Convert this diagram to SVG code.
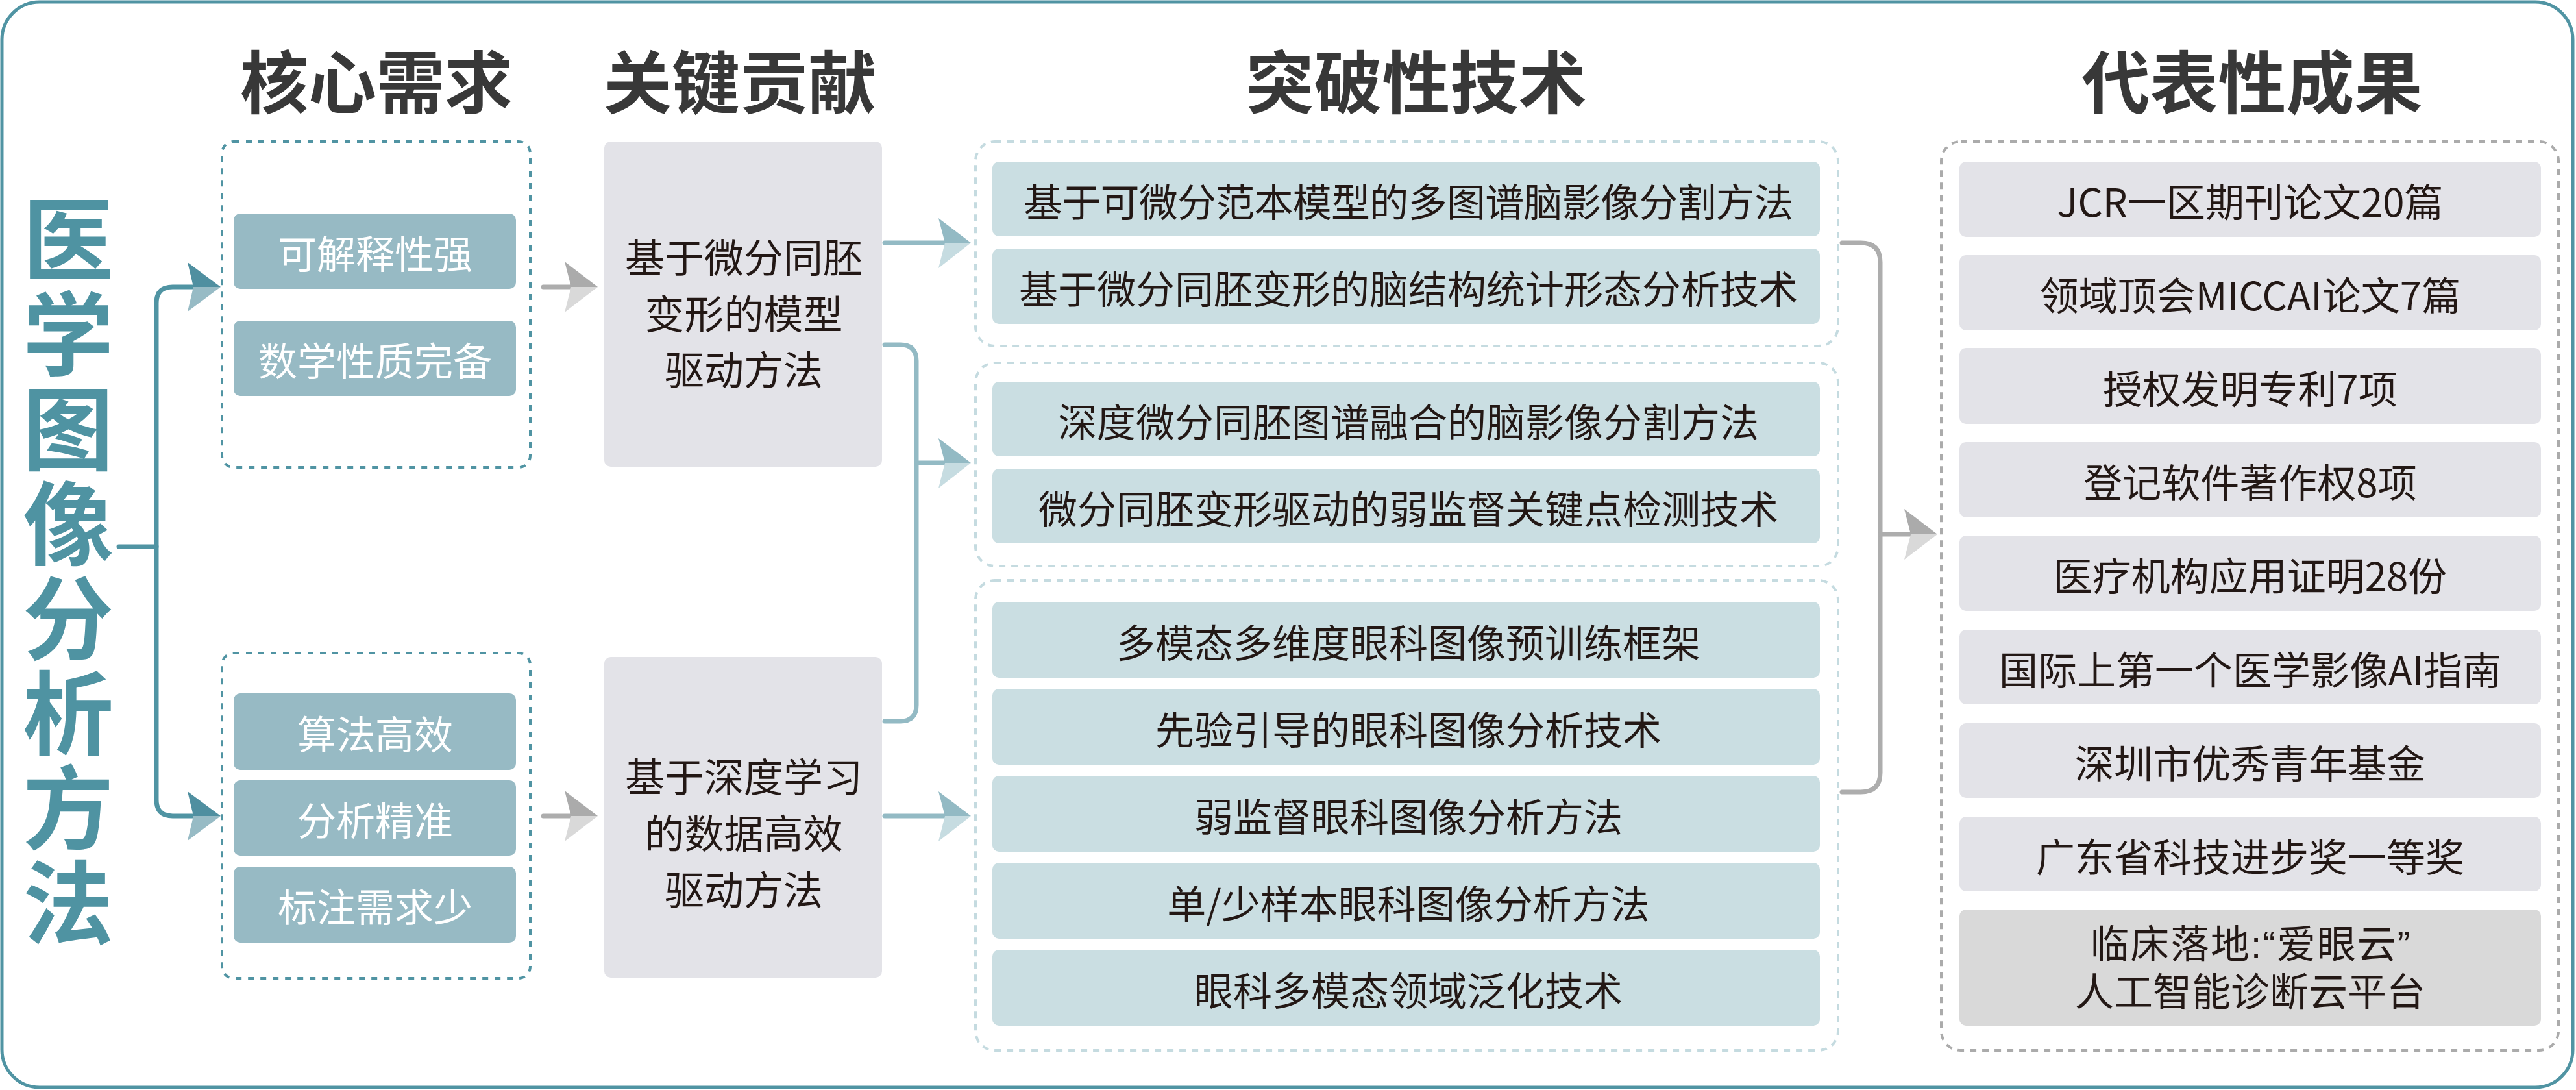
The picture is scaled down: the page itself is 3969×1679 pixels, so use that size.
<svg xmlns="http://www.w3.org/2000/svg" width="3969" height="1679" viewBox="0 0 3969 1679">
<style>
text{font-family:"Noto Sans CJK SC","Noto Sans",sans-serif;text-anchor:middle;dominant-baseline:central}
.title{font-size:140px;font-weight:700;fill:#4f93a2;writing-mode:vertical-rl;letter-spacing:6px}
.hdr{font-size:105px;font-weight:700;fill:#383838}
.core{fill:#97bac4}
.coreT{font-size:60px;fill:#ffffff}
.key{fill:#e3e3e8}
.dk{font-size:61px;fill:#231815}
.tech{fill:#cadee2}
.t{font-size:60px;fill:#231815}
.lat{font-family:"Liberation Sans","Noto Sans CJK SC",sans-serif}
.res{fill:#e3e3e8}
.dashCore{fill:none;stroke:#5094a3;stroke-width:4;stroke-dasharray:9 10}
.dashTech{fill:none;stroke:#c5dbe0;stroke-width:4;stroke-dasharray:10 9}
.dashRes{fill:none;stroke:#ababab;stroke-width:4;stroke-dasharray:10 9}
.lnTeal{fill:none;stroke:#5094a3;stroke-width:7;stroke-linecap:round}
.lnLt{fill:none;stroke:#93bac4;stroke-width:7;stroke-linecap:round}
.lnGr{fill:none;stroke:#adadad;stroke-width:7;stroke-linecap:round}
</style>
<defs>
<g id="ahTeal"><polygon points="-51,-38 0,0 -42,0" fill="#4f8fa0"/><polygon points="-42,0 0,0 -51,38" fill="#97bbc5"/></g>
<g id="ahLt"><polygon points="-50,-38 0,0 -40,0" fill="#93bac4"/><polygon points="-40,0 0,0 -50,39" fill="#c6dce1"/></g>
<g id="ahGr"><polygon points="-51,-39 0,0 -41,0" fill="#ababab"/><polygon points="-41,0 0,0 -51,39" fill="#d9d9d9"/></g>
</defs>
<rect x="3" y="3" width="3961" height="1672" rx="58" fill="#ffffff" stroke="#5094a3" stroke-width="5"/>

<g id="title">
<text class="title" x="105" y="882">医学图像分析方法</text>
</g>

<g id="headers">
<text class="hdr" x="580" y="120">核心需求</text>
<text class="hdr" x="1140" y="120">关键贡献</text>
<text class="hdr" x="2182" y="120">突破性技术</text>
<text class="hdr" x="3470" y="120">代表性成果</text>
</g>

<g id="connectors">
<path class="lnTeal" d="M183 842 H241"/>
<path class="lnTeal" d="M298 442 H266 Q241 442 241 467 V1232 Q241 1257 266 1257 H298"/>
<use href="#ahTeal" x="340" y="442"/>
<use href="#ahTeal" x="340" y="1257"/>
<path class="lnGr" d="M837 442 H880 M837 1257 H880"/>
<use href="#ahGr" x="921" y="442"/>
<use href="#ahGr" x="921" y="1257"/>
<path class="lnLt" d="M1363 374 H1456 M1363 1257 H1456 M1412 713 H1456"/>
<path class="lnLt" d="M1363 531 H1387 Q1412 531 1412 556 V1086 Q1412 1111 1387 1111 H1363"/>
<use href="#ahLt" x="1496" y="374"/>
<use href="#ahLt" x="1496" y="713"/>
<use href="#ahLt" x="1496" y="1257"/>
<path class="lnGr" d="M2838 374 H2867 Q2897 374 2897 404 V1190 Q2897 1220 2867 1220 H2838"/>
<path class="lnGr" d="M2897 823 H2945"/>
<use href="#ahGr" x="2985" y="823"/>
</g>

<g id="core1">
<rect class="dashCore" x="342" y="218" width="475" height="502" rx="18"/>
<rect class="core" x="360" y="329" width="435" height="116" rx="10"/>
<text class="coreT" x="578" y="387">可解释性强</text>
<rect class="core" x="360" y="494" width="435" height="116" rx="10"/>
<text class="coreT" x="578" y="552">数学性质完备</text>
</g>

<g id="core2">
<rect class="dashCore" x="342" y="1006" width="475" height="501" rx="18"/>
<rect class="core" x="360" y="1068" width="435" height="118" rx="10"/>
<text class="coreT" x="578" y="1127">算法高效</text>
<rect class="core" x="360" y="1202" width="435" height="116" rx="10"/>
<text class="coreT" x="578" y="1260">分析精准</text>
<rect class="core" x="360" y="1335" width="435" height="117" rx="10"/>
<text class="coreT" x="578" y="1393">标注需求少</text>
</g>

<g id="key1">
<rect class="key" x="931" y="218" width="428" height="501" rx="10"/>
<text class="dk" x="1146" y="393">基于微分同胚</text>
<text class="dk" x="1146" y="480">变形的模型</text>
<text class="dk" x="1146" y="566">驱动方法</text>
</g>

<g id="key2">
<rect class="key" x="931" y="1012" width="428" height="494" rx="10"/>
<text class="dk" x="1146" y="1193">基于深度学习</text>
<text class="dk" x="1146" y="1280">的数据高效</text>
<text class="dk" x="1146" y="1367">驱动方法</text>
</g>

<g id="tech1">
<rect class="dashTech" x="1503" y="218" width="1329" height="315" rx="30"/>
<rect class="tech" x="1529" y="249" width="1275" height="115" rx="10"/>
<text class="t" x="2170" y="307" textLength="1186">基于可微分范本模型的多图谱脑影像分割方法</text>
<rect class="tech" x="1529" y="383" width="1275" height="116" rx="10"/>
<text class="t" x="2170" y="441">基于微分同胚变形的脑结构统计形态分析技术</text>
</g>

<g id="tech2">
<rect class="dashTech" x="1503" y="559" width="1329" height="313" rx="30"/>
<rect class="tech" x="1529" y="588" width="1275" height="115" rx="10"/>
<text class="t" x="2170" y="646">深度微分同胚图谱融合的脑影像分割方法</text>
<rect class="tech" x="1529" y="722" width="1275" height="115" rx="10"/>
<text class="t" x="2170" y="780">微分同胚变形驱动的弱监督关键点检测技术</text>
</g>

<g id="tech3">
<rect class="dashTech" x="1503" y="894" width="1329" height="724" rx="30"/>
<rect class="tech" x="1529" y="927" width="1275" height="117" rx="10"/>
<text class="t" x="2170" y="986">多模态多维度眼科图像预训练框架</text>
<rect class="tech" x="1529" y="1061" width="1275" height="117" rx="10"/>
<text class="t" x="2170" y="1120">先验引导的眼科图像分析技术</text>
<rect class="tech" x="1529" y="1195" width="1275" height="117" rx="10"/>
<text class="t" x="2170" y="1254">弱监督眼科图像分析方法</text>
<rect class="tech" x="1529" y="1329" width="1275" height="117" rx="10"/>
<text class="t" x="2170" y="1388">单/少样本眼科图像分析方法</text>
<rect class="tech" x="1529" y="1463" width="1275" height="117" rx="10"/>
<text class="t" x="2170" y="1522">眼科多模态领域泛化技术</text>
</g>

<g id="results">
<rect class="dashRes" x="2991" y="218" width="951" height="1400" rx="30"/>
<rect class="res" x="3019" y="249" width="896" height="116" rx="10"/>
<text class="t" x="3467" y="307">JCR一区期刊论文20篇</text>
<rect class="res" x="3019" y="393" width="896" height="116" rx="10"/>
<text class="t" x="3467" y="451">领域顶会MICCAI论文7篇</text>
<rect class="res" x="3019" y="536" width="896" height="117" rx="10"/>
<text class="t" x="3467" y="595">授权发明专利7项</text>
<rect class="res" x="3019" y="681" width="896" height="116" rx="10"/>
<text class="t" x="3467" y="739">登记软件著作权8项</text>
<rect class="res" x="3019" y="825" width="896" height="116" rx="10"/>
<text class="t" x="3467" y="883">医疗机构应用证明28份</text>
<rect class="res" x="3019" y="970" width="896" height="115" rx="10"/>
<text class="t" x="3467" y="1028">国际上第一个医学影像AI指南</text>
<rect class="res" x="3019" y="1114" width="896" height="115" rx="10"/>
<text class="t" x="3467" y="1172">深圳市优秀青年基金</text>
<rect class="res" x="3019" y="1258" width="896" height="115" rx="10"/>
<text class="t" x="3467" y="1316">广东省科技进步奖一等奖</text>
<rect x="3019" y="1401" width="896" height="179" rx="10" fill="#d9d9d9"/>
<text class="t lat"><tspan x="3467" y="1455" textLength="493">临床落地:“爱眼云”</tspan><tspan x="3467" y="1529">人工智能诊断云平台</tspan></text>
</g>
</svg>
